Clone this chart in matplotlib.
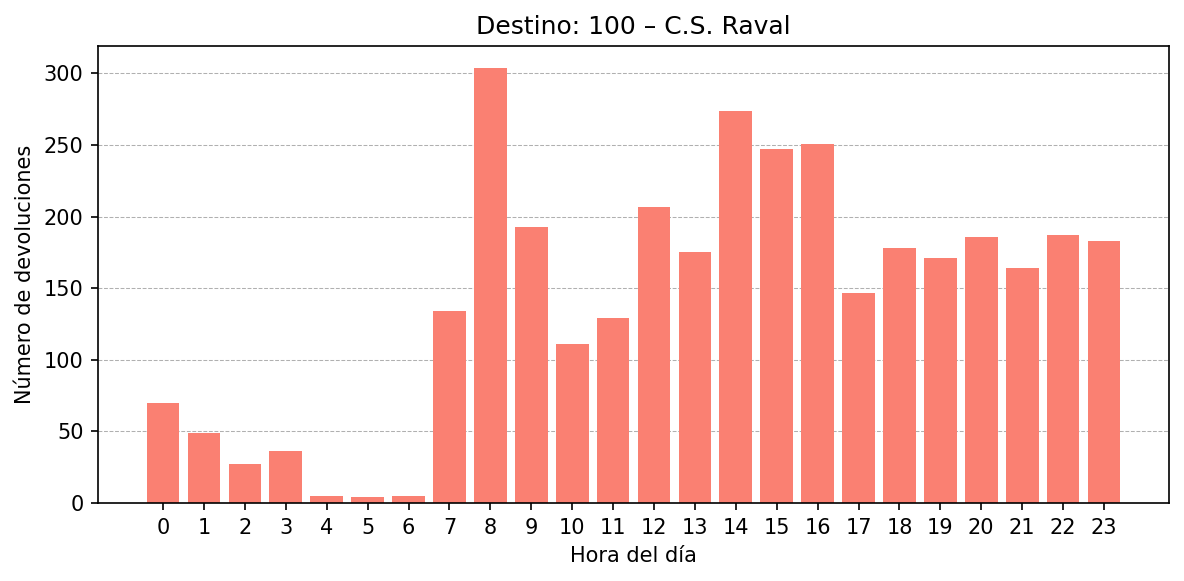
import numpy as np
import matplotlib
matplotlib.use('Agg')
import matplotlib.pyplot as plt

# devoluciones por hora
horas = list(range(24))
devoluciones = [70, 49, 27, 36, 5, 4, 5, 134, 304, 193, 111, 129,
                207, 175, 274, 247, 251, 147, 178, 171, 186, 164, 187, 183]

fig = plt.figure(figsize=(1184 / 150, 581 / 150), dpi=150)
ax = fig.add_axes([98 / 1184, 1 - 503 / 581, (1169 - 98) / 1184, (503 - 46) / 581])
ax.bar(horas, devoluciones, color='salmon', zorder=2)
ax.set_xticks(horas)
ax.set_title('Destino: 100 – C.S. Raval')
ax.set_xlabel('Hora del día')
ax.set_ylabel('Número de devoluciones')
ax.grid(axis='y', linestyle='--', linewidth=0.5, color='#b0b0b0', zorder=0)
ax.set_axisbelow(True)

fig.savefig('out.png', dpi=150)
